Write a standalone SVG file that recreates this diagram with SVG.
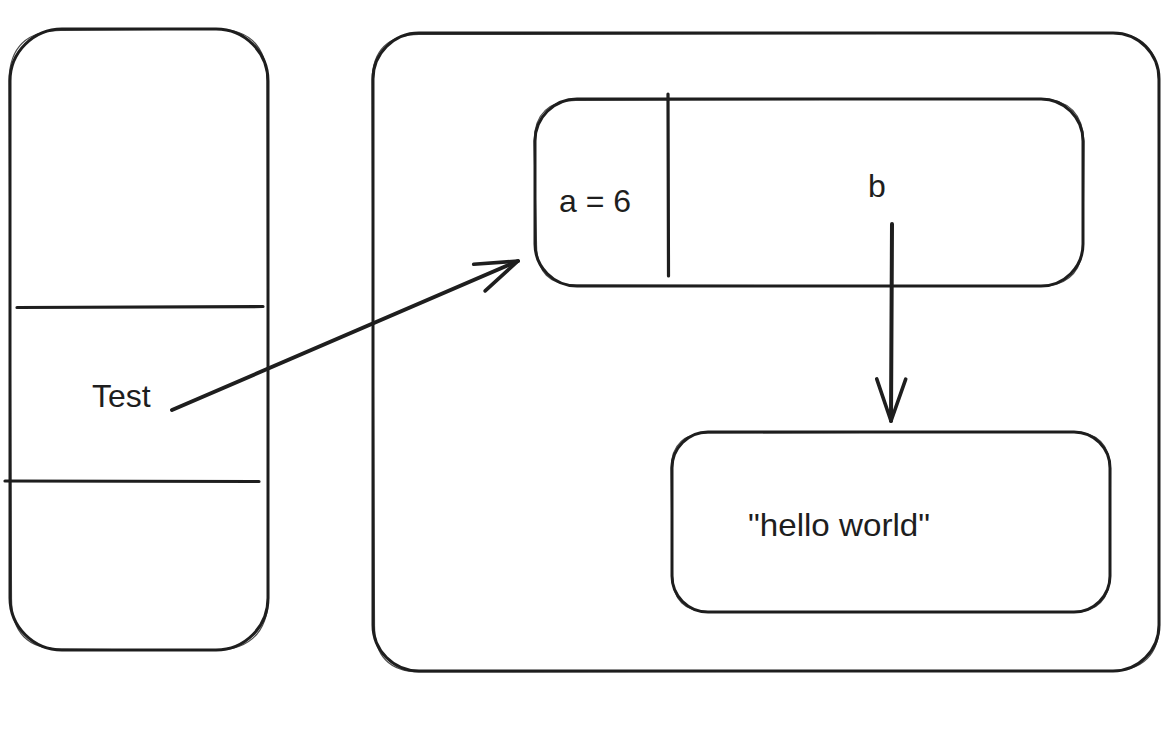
<svg xmlns="http://www.w3.org/2000/svg" width="1170" height="739" viewBox="0 0 1170 739">
  <style>
    .box { fill: none; stroke: #1e1e1e; stroke-width: 3; stroke-linejoin: round; }
    .box2 { fill: none; stroke: #1e1e1e; stroke-width: 1.2; opacity: 0.8; }
    .div { stroke: #1e1e1e; stroke-width: 3.2; stroke-linecap: round; fill: none; }
    .conn { stroke: #1e1e1e; stroke-width: 4; stroke-linecap: round; fill: none; }
    .lbl { font-family: "Liberation Sans", Arial, Helvetica, sans-serif; font-size: 32px; fill: #1e1e1e; }
  </style>
  <defs>
    <marker id="open-arrow" markerUnits="userSpaceOnUse" viewBox="-50 -20 56 40" refX="0" refY="0" markerWidth="56" markerHeight="40" orient="auto" overflow="visible">
      <path d="M -42 -14.5 L 0 0 L -42 14.5" fill="none" stroke="#1e1e1e" stroke-width="3.6" stroke-linecap="round" stroke-linejoin="round"/>
    </marker>
  </defs>
  <rect width="1170" height="739" fill="#ffffff"/>

  <g id="stack">
    <rect class="box" x="10" y="29" width="258" height="621" rx="52" ry="52"/>
    <path class="box2" d="M 62 30.5 L 216 29 Q 266 29 267 80 L 268.5 598 Q 267 649 216 650.5 L 62 649 Q 11 650 11.5 598 L 9 80 Q 10 30 62 30.5"/>
    <path class="div" d="M 17 307.5 L 263 306.5"/>
    <path class="div" d="M 5 481 L 259 481.5"/>
    <text class="lbl" x="92" y="407">Test</text>
  </g>

  <g id="heap">
    <rect class="box" x="373" y="33" width="786" height="638" rx="46" ry="46"/>
    <path class="box2" d="M 419 34.5 L 1112 33 Q 1157 34 1158.5 80 L 1159.5 625 Q 1158 670 1112 671 L 419 672 Q 374 671 374.5 625 L 372 80 Q 373 35 419 34.5"/>
  </g>

  <g id="object">
    <rect class="box" x="535" y="99" width="548" height="187" rx="42" ry="42"/>
    <path class="box2" d="M 577 100.5 L 1041 98.5 Q 1082 100 1084 141 L 1083 244 Q 1082 285 1041 286.5 L 577 285 Q 536 286 536.5 244 L 534 141 Q 535 100 577 100.5"/>
    <path class="div" d="M 668 94 L 668.5 276"/>
    <text class="lbl" x="559" y="211.5">a = 6</text>
    <text class="lbl" x="868" y="197">b</text>
  </g>

  <g id="string">
    <rect class="box" x="672" y="432" width="438" height="180" rx="36" ry="36"/>
    <path class="box2" d="M 708 433 L 1074 431.5 Q 1109 433 1110.5 468 L 1110 576 Q 1109 611 1074 612.5 L 708 611.5 Q 673 612 672.5 576 L 671 468 Q 672 433 708 433"/>
    <text class="lbl" x="748" y="536" textLength="182" lengthAdjust="spacingAndGlyphs">"hello world"</text>
  </g>

  <g id="connectors">
    <path class="conn" d="M 172 410 L 518 261" marker-end="url(#open-arrow)"/>
    <path class="conn" d="M 892 224 L 891 421" marker-end="url(#open-arrow)"/>
  </g>
</svg>
